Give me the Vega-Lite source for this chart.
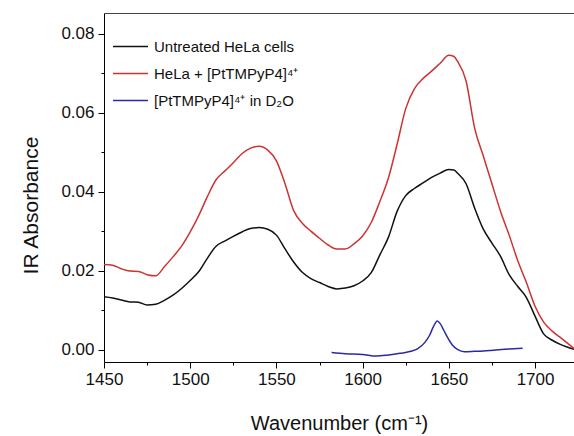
{
  "$schema": "https://vega.github.io/schema/vega-lite/v6.json",
  "width": 470,
  "height": 349,
  "autosize": {"type": "none"},
  "padding": {"left": 104, "top": 13, "right": 0, "bottom": 74},
  "background": "white",
  "config": {
    "view": {"stroke": null},
    "font": "Liberation Sans",
    "axis": {"domainColor": "#000", "tickColor": "#000", "labelColor": "#111", "titleColor": "#111", "grid": false, "labelFont": "Liberation Sans", "titleFont": "Liberation Sans", "titleFontWeight": "normal"}
  },
  "data": {"values": [
    {"s": "Untreated HeLa cells", "x": 1450, "y": 0.0134},
    {"s": "Untreated HeLa cells", "x": 1455, "y": 0.0131},
    {"s": "Untreated HeLa cells", "x": 1460, "y": 0.0126},
    {"s": "Untreated HeLa cells", "x": 1465, "y": 0.0121},
    {"s": "Untreated HeLa cells", "x": 1470, "y": 0.0120},
    {"s": "Untreated HeLa cells", "x": 1475, "y": 0.0113},
    {"s": "Untreated HeLa cells", "x": 1480, "y": 0.0115},
    {"s": "Untreated HeLa cells", "x": 1485, "y": 0.0125},
    {"s": "Untreated HeLa cells", "x": 1490, "y": 0.0138},
    {"s": "Untreated HeLa cells", "x": 1495, "y": 0.0155},
    {"s": "Untreated HeLa cells", "x": 1500, "y": 0.0175},
    {"s": "Untreated HeLa cells", "x": 1505, "y": 0.0198},
    {"s": "Untreated HeLa cells", "x": 1510, "y": 0.0232},
    {"s": "Untreated HeLa cells", "x": 1515, "y": 0.0262},
    {"s": "Untreated HeLa cells", "x": 1520, "y": 0.0275},
    {"s": "Untreated HeLa cells", "x": 1525, "y": 0.0287},
    {"s": "Untreated HeLa cells", "x": 1530, "y": 0.0298},
    {"s": "Untreated HeLa cells", "x": 1535, "y": 0.0307},
    {"s": "Untreated HeLa cells", "x": 1540, "y": 0.0309},
    {"s": "Untreated HeLa cells", "x": 1545, "y": 0.0305},
    {"s": "Untreated HeLa cells", "x": 1550, "y": 0.0290},
    {"s": "Untreated HeLa cells", "x": 1555, "y": 0.0255},
    {"s": "Untreated HeLa cells", "x": 1560, "y": 0.0222},
    {"s": "Untreated HeLa cells", "x": 1565, "y": 0.0196},
    {"s": "Untreated HeLa cells", "x": 1570, "y": 0.0180},
    {"s": "Untreated HeLa cells", "x": 1575, "y": 0.0170},
    {"s": "Untreated HeLa cells", "x": 1580, "y": 0.0160},
    {"s": "Untreated HeLa cells", "x": 1585, "y": 0.0154},
    {"s": "Untreated HeLa cells", "x": 1590, "y": 0.0156},
    {"s": "Untreated HeLa cells", "x": 1595, "y": 0.0162},
    {"s": "Untreated HeLa cells", "x": 1600, "y": 0.0174},
    {"s": "Untreated HeLa cells", "x": 1605, "y": 0.0195},
    {"s": "Untreated HeLa cells", "x": 1610, "y": 0.0240},
    {"s": "Untreated HeLa cells", "x": 1615, "y": 0.0285},
    {"s": "Untreated HeLa cells", "x": 1620, "y": 0.0350},
    {"s": "Untreated HeLa cells", "x": 1625, "y": 0.0390},
    {"s": "Untreated HeLa cells", "x": 1630, "y": 0.0408},
    {"s": "Untreated HeLa cells", "x": 1635, "y": 0.0422},
    {"s": "Untreated HeLa cells", "x": 1640, "y": 0.0436},
    {"s": "Untreated HeLa cells", "x": 1645, "y": 0.0447},
    {"s": "Untreated HeLa cells", "x": 1650, "y": 0.0456},
    {"s": "Untreated HeLa cells", "x": 1653, "y": 0.0455},
    {"s": "Untreated HeLa cells", "x": 1655, "y": 0.0447},
    {"s": "Untreated HeLa cells", "x": 1660, "y": 0.0420},
    {"s": "Untreated HeLa cells", "x": 1665, "y": 0.0358},
    {"s": "Untreated HeLa cells", "x": 1670, "y": 0.0305},
    {"s": "Untreated HeLa cells", "x": 1675, "y": 0.0270},
    {"s": "Untreated HeLa cells", "x": 1680, "y": 0.0236},
    {"s": "Untreated HeLa cells", "x": 1685, "y": 0.0190},
    {"s": "Untreated HeLa cells", "x": 1690, "y": 0.0160},
    {"s": "Untreated HeLa cells", "x": 1695, "y": 0.0132},
    {"s": "Untreated HeLa cells", "x": 1700, "y": 0.0085},
    {"s": "Untreated HeLa cells", "x": 1705, "y": 0.0040},
    {"s": "Untreated HeLa cells", "x": 1710, "y": 0.0024},
    {"s": "Untreated HeLa cells", "x": 1715, "y": 0.0013},
    {"s": "Untreated HeLa cells", "x": 1722.6, "y": 0.0001},
    {"s": "HeLa + [PtTMPyP4]⁴⁺", "x": 1450, "y": 0.0216},
    {"s": "HeLa + [PtTMPyP4]⁴⁺", "x": 1455, "y": 0.0214},
    {"s": "HeLa + [PtTMPyP4]⁴⁺", "x": 1460, "y": 0.0205},
    {"s": "HeLa + [PtTMPyP4]⁴⁺", "x": 1465, "y": 0.0199},
    {"s": "HeLa + [PtTMPyP4]⁴⁺", "x": 1470, "y": 0.0198},
    {"s": "HeLa + [PtTMPyP4]⁴⁺", "x": 1475, "y": 0.0190},
    {"s": "HeLa + [PtTMPyP4]⁴⁺", "x": 1480, "y": 0.0187},
    {"s": "HeLa + [PtTMPyP4]⁴⁺", "x": 1485, "y": 0.0210},
    {"s": "HeLa + [PtTMPyP4]⁴⁺", "x": 1490, "y": 0.0235},
    {"s": "HeLa + [PtTMPyP4]⁴⁺", "x": 1495, "y": 0.0262},
    {"s": "HeLa + [PtTMPyP4]⁴⁺", "x": 1500, "y": 0.0298},
    {"s": "HeLa + [PtTMPyP4]⁴⁺", "x": 1505, "y": 0.0340},
    {"s": "HeLa + [PtTMPyP4]⁴⁺", "x": 1510, "y": 0.0388},
    {"s": "HeLa + [PtTMPyP4]⁴⁺", "x": 1515, "y": 0.0430},
    {"s": "HeLa + [PtTMPyP4]⁴⁺", "x": 1520, "y": 0.0452},
    {"s": "HeLa + [PtTMPyP4]⁴⁺", "x": 1525, "y": 0.0473},
    {"s": "HeLa + [PtTMPyP4]⁴⁺", "x": 1530, "y": 0.0496},
    {"s": "HeLa + [PtTMPyP4]⁴⁺", "x": 1535, "y": 0.0510},
    {"s": "HeLa + [PtTMPyP4]⁴⁺", "x": 1540, "y": 0.0515},
    {"s": "HeLa + [PtTMPyP4]⁴⁺", "x": 1545, "y": 0.0505},
    {"s": "HeLa + [PtTMPyP4]⁴⁺", "x": 1550, "y": 0.0478},
    {"s": "HeLa + [PtTMPyP4]⁴⁺", "x": 1555, "y": 0.0420},
    {"s": "HeLa + [PtTMPyP4]⁴⁺", "x": 1560, "y": 0.0352},
    {"s": "HeLa + [PtTMPyP4]⁴⁺", "x": 1565, "y": 0.0320},
    {"s": "HeLa + [PtTMPyP4]⁴⁺", "x": 1570, "y": 0.0300},
    {"s": "HeLa + [PtTMPyP4]⁴⁺", "x": 1575, "y": 0.0282},
    {"s": "HeLa + [PtTMPyP4]⁴⁺", "x": 1580, "y": 0.0265},
    {"s": "HeLa + [PtTMPyP4]⁴⁺", "x": 1585, "y": 0.0255},
    {"s": "HeLa + [PtTMPyP4]⁴⁺", "x": 1590, "y": 0.0255},
    {"s": "HeLa + [PtTMPyP4]⁴⁺", "x": 1595, "y": 0.0268},
    {"s": "HeLa + [PtTMPyP4]⁴⁺", "x": 1600, "y": 0.0288},
    {"s": "HeLa + [PtTMPyP4]⁴⁺", "x": 1605, "y": 0.0322},
    {"s": "HeLa + [PtTMPyP4]⁴⁺", "x": 1610, "y": 0.0375},
    {"s": "HeLa + [PtTMPyP4]⁴⁺", "x": 1615, "y": 0.0435},
    {"s": "HeLa + [PtTMPyP4]⁴⁺", "x": 1620, "y": 0.0520},
    {"s": "HeLa + [PtTMPyP4]⁴⁺", "x": 1625, "y": 0.0610},
    {"s": "HeLa + [PtTMPyP4]⁴⁺", "x": 1630, "y": 0.0660},
    {"s": "HeLa + [PtTMPyP4]⁴⁺", "x": 1635, "y": 0.0686},
    {"s": "HeLa + [PtTMPyP4]⁴⁺", "x": 1640, "y": 0.0705},
    {"s": "HeLa + [PtTMPyP4]⁴⁺", "x": 1645, "y": 0.0725},
    {"s": "HeLa + [PtTMPyP4]⁴⁺", "x": 1650, "y": 0.0745},
    {"s": "HeLa + [PtTMPyP4]⁴⁺", "x": 1653, "y": 0.0742},
    {"s": "HeLa + [PtTMPyP4]⁴⁺", "x": 1655, "y": 0.0730},
    {"s": "HeLa + [PtTMPyP4]⁴⁺", "x": 1660, "y": 0.0680},
    {"s": "HeLa + [PtTMPyP4]⁴⁺", "x": 1665, "y": 0.0560},
    {"s": "HeLa + [PtTMPyP4]⁴⁺", "x": 1670, "y": 0.0490},
    {"s": "HeLa + [PtTMPyP4]⁴⁺", "x": 1675, "y": 0.0420},
    {"s": "HeLa + [PtTMPyP4]⁴⁺", "x": 1680, "y": 0.0350},
    {"s": "HeLa + [PtTMPyP4]⁴⁺", "x": 1685, "y": 0.0290},
    {"s": "HeLa + [PtTMPyP4]⁴⁺", "x": 1690, "y": 0.0225},
    {"s": "HeLa + [PtTMPyP4]⁴⁺", "x": 1695, "y": 0.0170},
    {"s": "HeLa + [PtTMPyP4]⁴⁺", "x": 1700, "y": 0.0110},
    {"s": "HeLa + [PtTMPyP4]⁴⁺", "x": 1705, "y": 0.0070},
    {"s": "HeLa + [PtTMPyP4]⁴⁺", "x": 1710, "y": 0.0047},
    {"s": "HeLa + [PtTMPyP4]⁴⁺", "x": 1715, "y": 0.0030},
    {"s": "HeLa + [PtTMPyP4]⁴⁺", "x": 1722.6, "y": 0.0003},
    {"s": "[PtTMPyP4]⁴⁺ in D₂O", "x": 1582, "y": -0.0007},
    {"s": "[PtTMPyP4]⁴⁺ in D₂O", "x": 1590, "y": -0.0010},
    {"s": "[PtTMPyP4]⁴⁺ in D₂O", "x": 1600, "y": -0.0012},
    {"s": "[PtTMPyP4]⁴⁺ in D₂O", "x": 1608, "y": -0.0016},
    {"s": "[PtTMPyP4]⁴⁺ in D₂O", "x": 1615, "y": -0.0013},
    {"s": "[PtTMPyP4]⁴⁺ in D₂O", "x": 1622, "y": -0.0009},
    {"s": "[PtTMPyP4]⁴⁺ in D₂O", "x": 1628, "y": -0.0004},
    {"s": "[PtTMPyP4]⁴⁺ in D₂O", "x": 1632, "y": 0.0003},
    {"s": "[PtTMPyP4]⁴⁺ in D₂O", "x": 1636, "y": 0.0018},
    {"s": "[PtTMPyP4]⁴⁺ in D₂O", "x": 1639, "y": 0.0038},
    {"s": "[PtTMPyP4]⁴⁺ in D₂O", "x": 1641, "y": 0.0058},
    {"s": "[PtTMPyP4]⁴⁺ in D₂O", "x": 1643.3, "y": 0.0073},
    {"s": "[PtTMPyP4]⁴⁺ in D₂O", "x": 1645, "y": 0.0066},
    {"s": "[PtTMPyP4]⁴⁺ in D₂O", "x": 1647, "y": 0.0050},
    {"s": "[PtTMPyP4]⁴⁺ in D₂O", "x": 1649, "y": 0.0033},
    {"s": "[PtTMPyP4]⁴⁺ in D₂O", "x": 1652, "y": 0.0012},
    {"s": "[PtTMPyP4]⁴⁺ in D₂O", "x": 1655, "y": 0.0001},
    {"s": "[PtTMPyP4]⁴⁺ in D₂O", "x": 1659, "y": -0.0005},
    {"s": "[PtTMPyP4]⁴⁺ in D₂O", "x": 1665, "y": -0.0004},
    {"s": "[PtTMPyP4]⁴⁺ in D₂O", "x": 1670, "y": -0.0003},
    {"s": "[PtTMPyP4]⁴⁺ in D₂O", "x": 1676, "y": -0.0001},
    {"s": "[PtTMPyP4]⁴⁺ in D₂O", "x": 1685, "y": 0.0002},
    {"s": "[PtTMPyP4]⁴⁺ in D₂O", "x": 1692.8, "y": 0.0004}
  ]},
  "layer": [
    {
      "transform": [{"filter": "datum.s !== '[PtTMPyP4]⁴⁺ in D₂O'"}],
      "mark": {"type": "line", "strokeWidth": 1.5, "clip": true, "interpolate": "monotone"},
      "encoding": {
        "x": {"field": "x", "type": "quantitative",
          "scale": {"domain": [1450, 1722.6], "nice": false, "zero": false},
          "axis": {"orient": "bottom", "values": [1450,1475,1500,1525,1550,1575,1600,1625,1650,1675,1700], "format": "d",
            "labelExpr": "datum.value % 50 === 0 ? datum.label : ''",
            "tickSize": {"condition": {"test": "datum.value % 50 === 0", "value": 6}, "value": 3},
            "labelFontSize": 17, "labelPadding": 3, "labelFlush": false,
            "title": "Wavenumber (cm⁻¹)", "titleFontSize": 20, "titleY": 51, "titleBaseline": "top"}},
        "y": {"field": "y", "type": "quantitative",
          "scale": {"domain": [-0.0031, 0.0852], "nice": false, "zero": false},
          "axis": {"values": [0,0.01,0.02,0.03,0.04,0.05,0.06,0.07,0.08], "format": ".2f",
            "labelExpr": "round(datum.value*100) % 2 === 0 ? datum.label : ''",
            "tickSize": {"condition": {"test": "round(datum.value*100) % 2 === 0", "value": 6}, "value": 3},
            "labelFontSize": 17, "labelPadding": 4, "labelFlush": false,
            "title": "IR Absorbance", "titleFontSize": 21, "titleX": -63, "titleY": 192}},
        "color": {"field": "s", "type": "nominal",
          "scale": {"domain": ["Untreated HeLa cells", "HeLa + [PtTMPyP4]⁴⁺", "[PtTMPyP4]⁴⁺ in D₂O"], "range": ["#111111", "#cc3333", "#2a2aa6"]},
          "legend": {"title": null, "orient": "none", "legendX": 8, "legendY": 15, "symbolType": "stroke", "symbolSize": 1225, "symbolStrokeWidth": 1.5, "labelFontSize": 15, "labelOffset": 5, "labelFont": "Liberation Sans", "labelColor": "#111", "rowPadding": -10, "padding": 0}}
      }
    },
    {
      "transform": [{"filter": "datum.s === '[PtTMPyP4]⁴⁺ in D₂O'"}],
      "mark": {"type": "line", "strokeWidth": 1.5, "clip": true, "interpolate": "monotone"},
      "encoding": {
        "x": {"field": "x", "type": "quantitative",
          "axis": {"orient": "top", "labels": false, "ticks": false, "title": null, "domainColor": "#444"}},
        "y": {"field": "y", "type": "quantitative"},
        "color": {"field": "s", "type": "nominal"}
      }
    }
  ],
  "resolve": {"axis": {"x": "independent"}}
}
